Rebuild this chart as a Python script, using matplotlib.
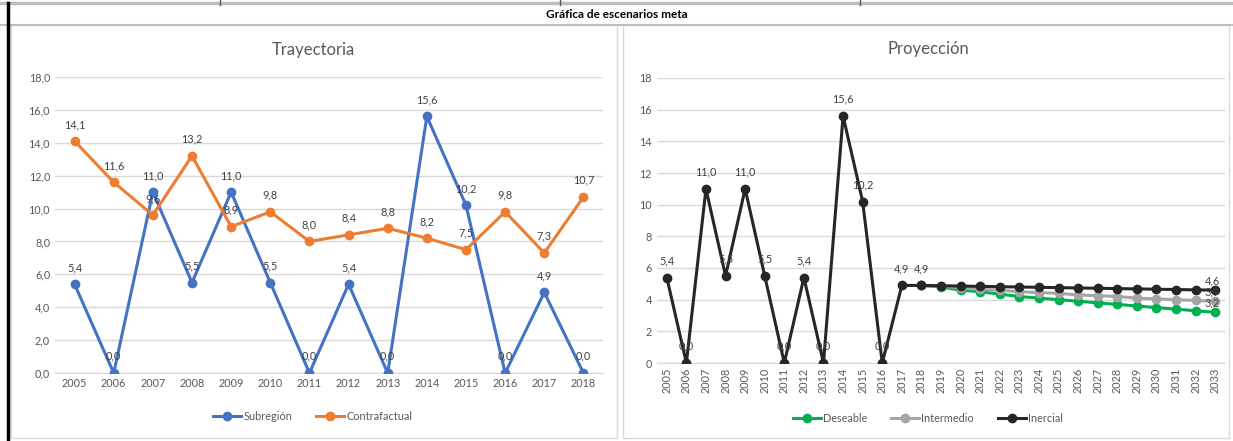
import matplotlib
matplotlib.use("Agg")
import matplotlib.pyplot as plt
from matplotlib.patches import Rectangle
from matplotlib.lines import Line2D
import numpy as np

plt.rcParams['font.family'] = ['Lato', 'DejaVu Sans']

# --- data ---
years_hist = [str(y) for y in range(2005, 2019)]
subregion = [5.4, 0.0, 11.0, 5.5, 11.0, 5.5, 0.0, 5.4, 0.0, 15.6, 10.2, 0.0, 4.9, 0.0]
contrafactual = [14.1, 11.6, 9.6, 13.2, 8.9, 9.8, 8.0, 8.4, 8.8, 8.2, 7.5, 9.8, 7.3, 10.7]

years_proj = [str(y) for y in range(2005, 2034)]
inercial_hist = [5.4, 0.0, 11.0, 5.5, 11.0, 5.5, 0.0, 5.4, 0.0, 15.6, 10.2, 0.0, 4.9]
# 2018 - 2033
inercial_fut = [4.9, 4.88, 4.86, 4.84, 4.82, 4.80, 4.78, 4.76, 4.74, 4.72, 4.70, 4.68, 4.66, 4.64, 4.62, 4.6]
intermedio_fut = [4.9, 4.85, 4.75, 4.65, 4.6, 4.5, 4.45, 4.4, 4.3, 4.25, 4.2, 4.1, 4.05, 4.0, 3.95, 3.9]
deseable_fut = [4.9, 4.8, 4.6, 4.5, 4.35, 4.2, 4.1, 4.0, 3.9, 3.8, 3.7, 3.6, 3.5, 3.4, 3.3, 3.2]

W, H = 1233, 441
fig = plt.figure(figsize=(W / 100, H / 100), dpi=100)
txt = '#595959'
grid = '#D9D9D9'
fs = 7.8


def fx(px):
    return px / W


def fy(py):
    return 1 - py / H


def lab(v):
    return f'{v:.1f}'.replace('.', ',')


# frame / sheet decorations
fig.add_artist(Line2D([0, 1], [fy(3), fy(3)], color='#BFBFBF', lw=2.5))
for xv in [220, 560, 860]:
    fig.add_artist(Line2D([fx(xv), fx(xv)], [fy(0), fy(5)], color='#595959', lw=1))
fig.add_artist(Line2D([0, 1], [fy(25), fy(25)], color='#BFBFBF', lw=1.5))
fig.add_artist(Line2D([fx(8), fx(8)], [0, fy(3)], color='black', lw=2.5))
fig.add_artist(Rectangle((fx(11), fy(438)), fx(606), 413 / H, fill=False, ec='#D9D9D9', lw=1))
fig.add_artist(Rectangle((fx(623), fy(438)), fx(606), 413 / H, fill=False, ec='#D9D9D9', lw=1))
fig.text(fx(617), fy(15), 'Gráfica de escenarios meta', ha='center', va='center',
         fontsize=8.5, fontweight='bold', color='black')

# --- left chart ---
ax1 = fig.add_axes([fx(55), fy(373), fx(548), 296 / H])
x1 = np.arange(len(years_hist))
ax1.plot(x1, subregion, color='#4472C4', lw=2.2, marker='o', ms=6, label='Subregión', zorder=3)
ax1.plot(x1, contrafactual, color='#ED7D31', lw=2.2, marker='o', ms=6, label='Contrafactual', zorder=3)
for xi, v in zip(x1, subregion):
    ax1.annotate(lab(v), (xi, v), xytext=(0, 12), textcoords='offset points',
                 ha='center', va='center', fontsize=fs, color='#404040', zorder=5)
for xi, v in zip(x1, contrafactual):
    ax1.annotate(lab(v), (xi, v), xytext=(0, 12), textcoords='offset points',
                 ha='center', va='center', fontsize=fs, color='#404040', zorder=5)
ax1.set_xlim(-0.5, len(years_hist) - 0.5)
ax1.set_ylim(0, 18)
ax1.set_yticks(np.arange(0, 19, 2))
ax1.set_yticklabels([lab(v) for v in np.arange(0, 19, 2)])
ax1.set_xticks(x1)
ax1.set_xticklabels(years_hist)
ax1.set_title('Trayectoria', fontsize=12, color=txt, pad=16, x=0.471)
ax1.legend(loc='upper center', bbox_to_anchor=(0.47, -0.095), ncol=2, frameon=False,
           fontsize=fs, labelcolor=txt, handlelength=2.6, handletextpad=0.2, columnspacing=2.2)

# --- right chart ---
ax2 = fig.add_axes([fx(657), fy(363), fx(568), 285 / H])
n_hist = len(inercial_hist)
x_fut = np.arange(n_hist, n_hist + len(inercial_fut))
x_hist = np.arange(n_hist)
ax2.plot(x_fut, deseable_fut, color='#00B050', lw=2.2, marker='o', ms=6, label='Deseable', zorder=3)
ax2.plot(x_fut, intermedio_fut, color='#A5A5A5', lw=2.2, marker='o', ms=6, label='Intermedio', zorder=3)
ax2.plot(np.concatenate([x_hist, x_fut]), inercial_hist + inercial_fut, color='#262626', lw=2.2,
         marker='o', ms=6, label='Inercial', zorder=4)
for xi, v in zip(list(x_hist) + [x_fut[0]], inercial_hist + [inercial_fut[0]]):
    ax2.annotate(lab(v), (xi, v), xytext=(0, 12), textcoords='offset points',
                 ha='center', va='center', fontsize=fs, color='#404040', zorder=5)
for ser in [inercial_fut, intermedio_fut, deseable_fut]:
    ax2.annotate(lab(ser[-1]), (x_fut[-1], ser[-1]), xytext=(-2, 7),
                 textcoords='offset points', ha='center', va='center', fontsize=fs,
                 color='#404040', zorder=5)
ax2.set_xlim(-0.5, len(years_proj) - 0.5)
ax2.set_ylim(0, 18)
ax2.set_yticks(np.arange(0, 19, 2))
ax2.set_xticks(np.arange(len(years_proj)))
ax2.set_xticklabels(years_proj, rotation=90)
ax2.set_title('Proyección', fontsize=12, color=txt, pad=17, x=0.477)
ax2.legend(loc='upper center', bbox_to_anchor=(0.477, -0.14), ncol=3, frameon=False,
           fontsize=fs, labelcolor=txt, handlelength=2.6, handletextpad=0.2, columnspacing=2.2)

for ax in (ax1, ax2):
    for s in ['top', 'right', 'left']:
        ax.spines[s].set_visible(False)
    ax.spines['bottom'].set_color(grid)
    ax.grid(axis='y', color=grid, lw=1)
    ax.set_axisbelow(True)
    ax.tick_params(length=0, labelsize=fs, colors=txt)

fig.savefig('out.png', dpi=100)
